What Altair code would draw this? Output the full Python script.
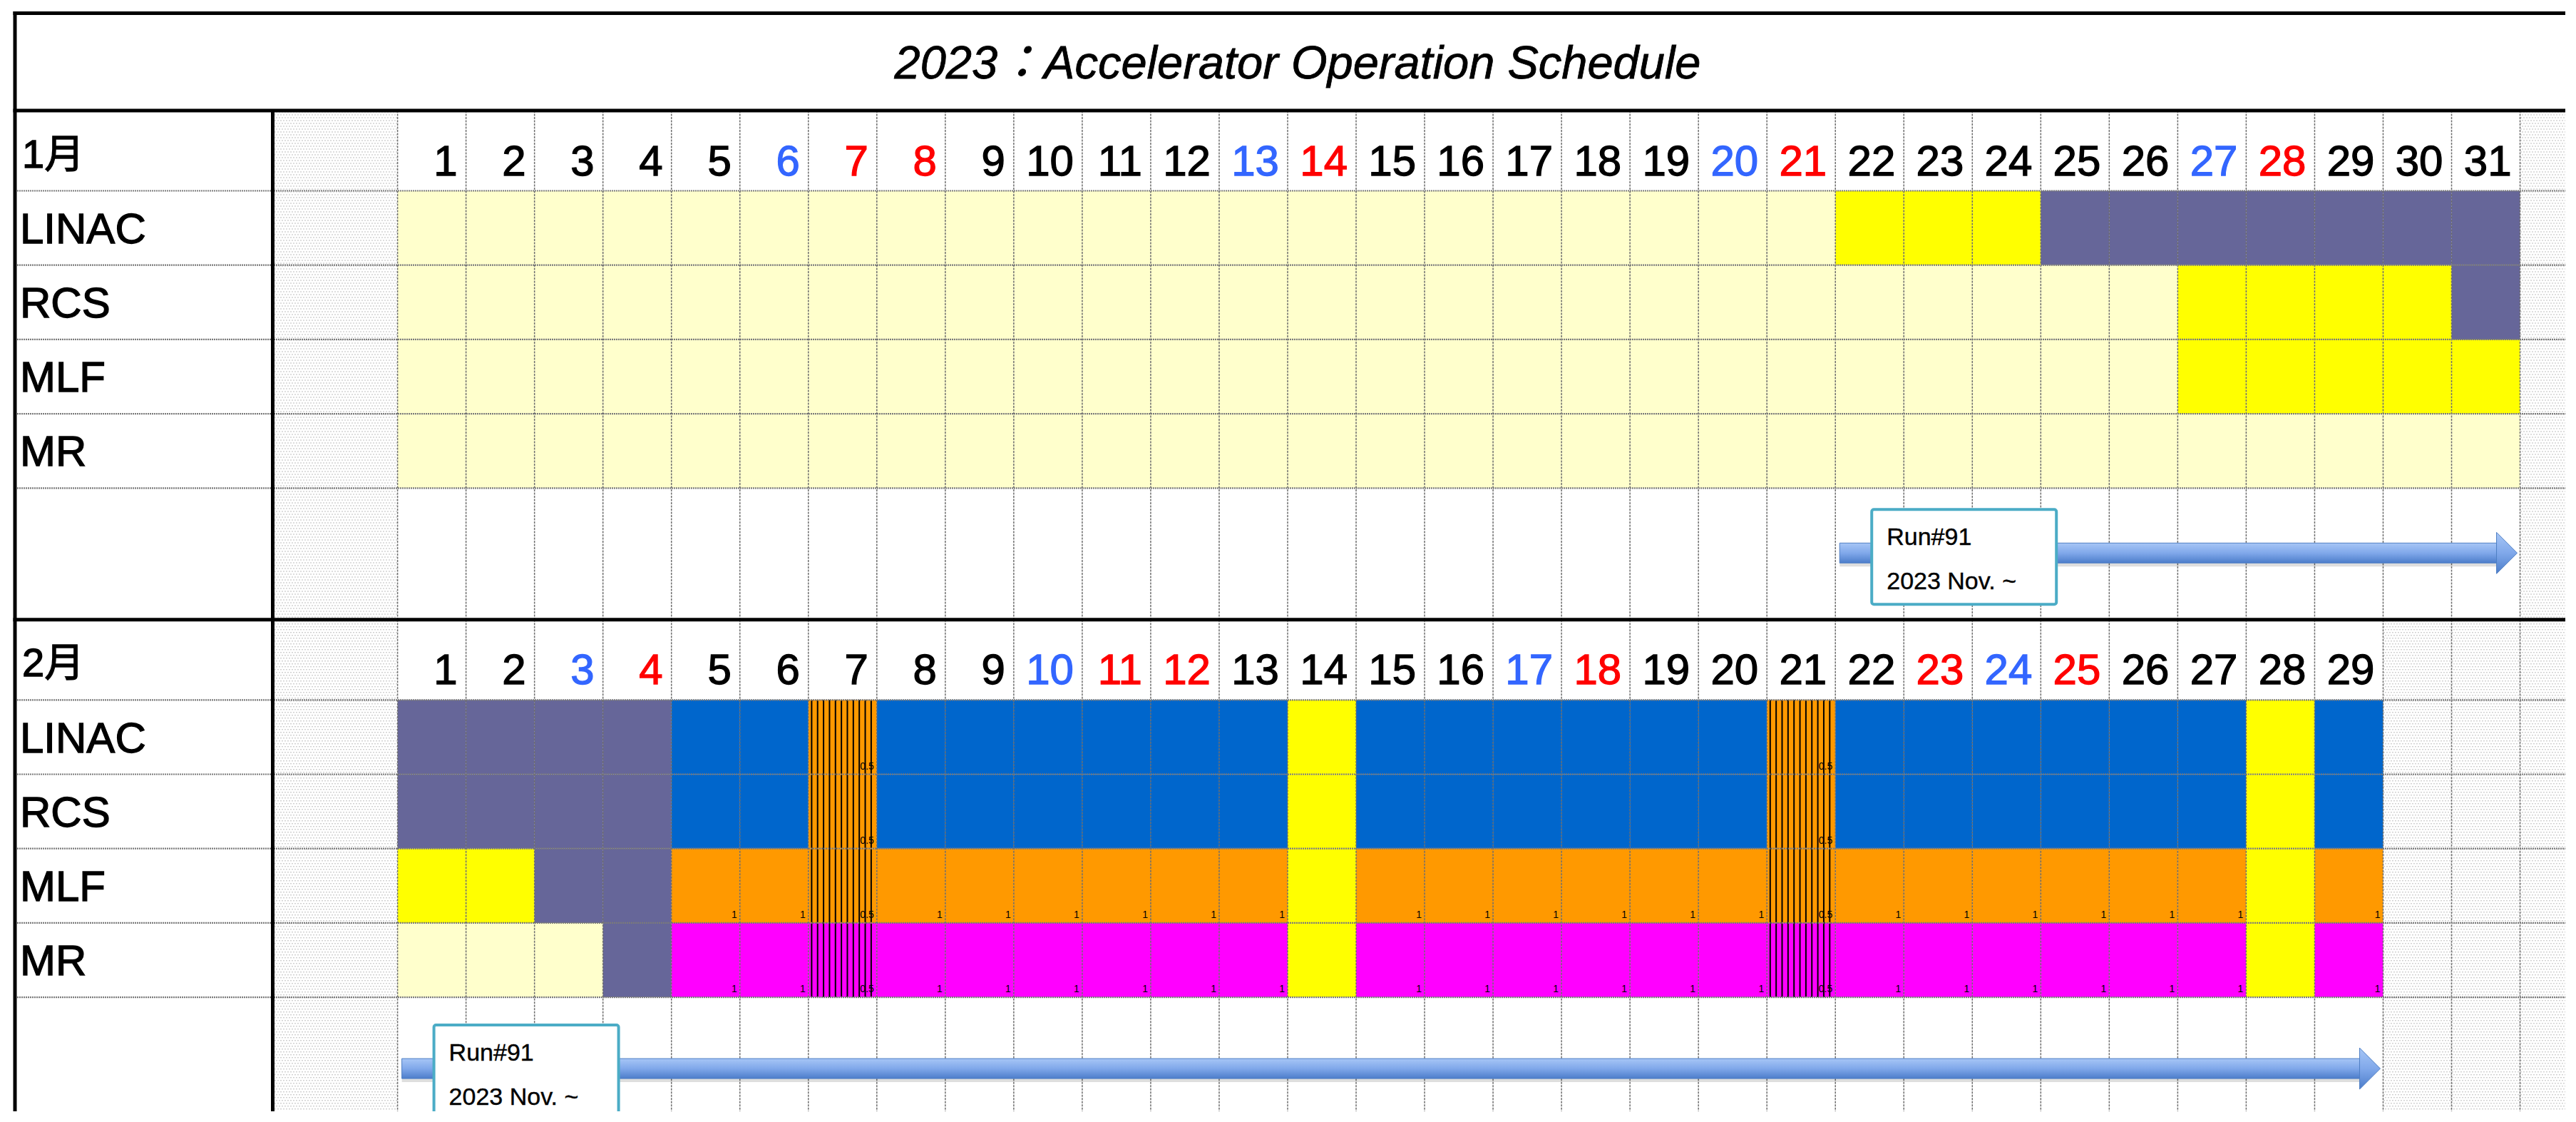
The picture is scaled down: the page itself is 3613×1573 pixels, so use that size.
import altair as alt
import pandas as pd

# ---------------- data ----------------
TITLE = "2023：Accelerator Operation Schedule"
MONTHS = ["1月", "2月"]
MONTH_DAYS = {"1月": 31, "2月": 29}
ROWS = ["LINAC", "RCS", "MLF", "MR"]
SAT_DAYS = {"1月": [6, 13, 20, 27], "2月": [3, 10, 17, 24]}
HOLIDAYS = {"1月": [7, 8, 14, 21, 28], "2月": [4, 11, 12, 18, 23, 25]}

# status code per day: L=off (light), Y=tuning, S=maintenance, B=beam, O=MLF user, M=MR user,
# H/h=half-day (hatched)
JAN_LINAC = list("LLLLLLLLLL" "LLLLLLLLLL" "L" "YYY" "SSSSSSS")
JAN_RCS = list("LLLLLLLLLL" "LLLLLLLLLL" "LLLLLL" "YYYY" "S")
JAN_MLF = list("LLLLLLLLLL" "LLLLLLLLLL" "LLLLLL" "YYYYY")
JAN_MR = list("LLLLLLLLLL" "LLLLLLLLLL" "LLLLLLLLLL" "L")
FEB_LINAC = list("SSSS" "BB" "H" "BBBBBB" "Y" "BBBBBB" "H" "BBBBBB" "Y" "B")
FEB_RCS = list("SSSS" "BB" "H" "BBBBBB" "Y" "BBBBBB" "H" "BBBBBB" "Y" "B")
FEB_MLF = list("YY" "SS" "OO" "H" "OOOOOO" "Y" "OOOOOO" "H" "OOOOOO" "Y" "O")
FEB_MR = list("LLL" "S" "MM" "h" "MMMMMM" "Y" "MMMMMM" "h" "MMMMMM" "Y" "M")
SCHEDULE = {
    "1月": [JAN_LINAC, JAN_RCS, JAN_MLF, JAN_MR],
    "2月": [FEB_LINAC, FEB_RCS, FEB_MLF, FEB_MR],
}
CODE_COLORS = {"L": "#FFFFCC", "Y": "#FFFF00", "S": "#666699", "B": "#0066CC",
               "O": "#FF9900", "M": "#FF00FF", "H": "#FF9900", "h": "#FF00FF"}
CELL_VALUE = {"H": "0.5", "h": "0.5", "O": "1", "M": "1"}
DAY_COLORS = {"wd": "#000000", "sat": "#3366FF", "hol": "#FF0000"}

RUNS = [{"month": "1月", "start": 22, "end": 31}, {"month": "2月", "start": 1, "end": 29}]
RUN_NAME = "Run#91"
RUN_NOTE = "2023 Nov. ~"

for m in MONTHS:
    for r in SCHEDULE[m]:
        assert len(r) == MONTH_DAYS[m], (m, len(r))

# ---------------- layout (pixels) ----------------
MARGIN = 8
PLOT_W, PLOT_H = 3590, 1550
COL_W = 96.03
DAY0_PX = 557.6
LEFT_PX = 21
LABEL_RIGHT_PX = 382.5
TOP_PX = 18.5
TITLE_BOTTOM_PX = 155
HEADER_H, ROW_H, BLANK_H = 112.5, 104.2, 184.5
RIGHT_PX = MARGIN + PLOT_W
BOTTOM_PX = MARGIN + PLOT_H
FONT = "Liberation Sans, Arial, Noto Sans CJK JP, sans-serif"

BLOCK_TOP = {"1月": TITLE_BOTTOM_PX}
BLOCK_TOP["2月"] = TITLE_BOTTOM_PX + HEADER_H + 4 * ROW_H + BLANK_H


def xu(px):
    return (px - DAY0_PX) / COL_W


def yu(px):
    return (px - MARGIN) / ROW_H


def hdr_bottom(m):
    return BLOCK_TOP[m] + HEADER_H


def row_top(m, r):
    return hdr_bottom(m) + r * ROW_H


def block_bottom(m):
    return row_top(m, 4) + BLANK_H if m == "1月" else BOTTOM_PX


XS = alt.Scale(domain=[xu(MARGIN), xu(RIGHT_PX)], nice=False, zero=False)
YS = alt.Scale(domain=[0, PLOT_H / ROW_H], nice=False, zero=False, reverse=True)


def X(f="x"):
    return alt.X(f"{f}:Q", scale=XS, axis=None)


def Y(f="y"):
    return alt.Y(f"{f}:Q", scale=YS, axis=None)


layers = []

# ---- dotted (unused) regions: texture built from dashed rules ----
dot_regions = []
for m in MONTHS:
    dot_regions.append((LABEL_RIGHT_PX, DAY0_PX, BLOCK_TOP[m], block_bottom(m)))
    dot_regions.append((DAY0_PX + MONTH_DAYS[m] * COL_W, RIGHT_PX, BLOCK_TOP[m], block_bottom(m)))
dots = []
for (x0, x1, y0, y1) in dot_regions:
    yy, i = y0 + 2, 0
    while yy < y1 - 1:
        dots.append({"x": xu(x0 + 1), "x2": xu(x1), "y": yu(yy), "par": i % 2})
        yy += 4
        i += 1
dots = pd.DataFrame(dots)
for par, off in [(0, 0), (1, 2)]:
    layers.append(
        alt.Chart(dots[dots.par == par]).mark_rule(
            color="#7a7a7a", strokeWidth=1, strokeDash=[1, 3], strokeDashOffset=off
        ).encode(x=X(), x2="x2", y=Y())
    )

# ---- schedule cells ----
cells = []
for m in MONTHS:
    for r, row in enumerate(ROWS):
        for d, code in enumerate(SCHEDULE[m][r], start=1):
            cells.append({
                "month": m, "row": row, "day": d, "code": code, "fill": CODE_COLORS[code],
                "x": d - 1, "x2": d,
                "y": yu(row_top(m, r)), "y2": yu(row_top(m, r + 1)),
                "val": CELL_VALUE.get(code, ""),
                "vx": d - 4 / COL_W, "vy": yu(row_top(m, r + 1) - 7),
            })
cells = pd.DataFrame(cells)
layers.append(
    alt.Chart(cells).mark_rect(strokeWidth=0).encode(
        x=X(), x2="x2", y=Y(), y2="y2",
        color=alt.Color("fill:N", scale=None, legend=None),
    )
)

# ---- hatch lines in half-day columns ----
hatch = []
for m in MONTHS:
    half_days = sorted({d for r in range(4) for d, c in enumerate(SCHEDULE[m][r], 1) if c in "Hh"})
    for d in half_days:
        for k in range(11):
            hatch.append({"x": d - 1 + (4.6 + 8.35 * k) / COL_W,
                          "y": yu(row_top(m, 0)), "y2": yu(row_top(m, 4))})
layers.append(
    alt.Chart(pd.DataFrame(hatch)).mark_rule(color="black", strokeWidth=2).encode(
        x=X(), y=Y(), y2="y2")
)

# ---- grid lines ----
vgrid, hgrid = [], []
for m in MONTHS:
    for k in range(0, 32):
        vgrid.append({"x": k, "y": yu(BLOCK_TOP[m]), "y2": yu(block_bottom(m))})
    for r in range(0, 5):
        hgrid.append({"x": xu(LEFT_PX), "x2": xu(RIGHT_PX), "y": yu(row_top(m, r))})
layers.append(
    alt.Chart(pd.DataFrame(vgrid)).mark_rule(color="#6e6e6e", strokeWidth=1.5, strokeDash=[3, 1.5]).encode(
        x=X(), y=Y(), y2="y2")
)
layers.append(
    alt.Chart(pd.DataFrame(hgrid)).mark_rule(color="#7a7a7a", strokeWidth=2.2, strokeDash=[2, 1]).encode(
        x=X(), x2="x2", y=Y())
)

# ---- small values in cells ----
layers.append(
    alt.Chart(cells[cells.val != ""]).mark_text(
        align="right", baseline="alphabetic", fontSize=14, font=FONT, color="black"
    ).encode(x=X("vx"), y=Y("vy"), text="val:N")
)

# ---- day header labels ----
days = []
for m in MONTHS:
    for d in range(1, MONTH_DAYS[m] + 1):
        kind = "sat" if d in SAT_DAYS[m] else ("hol" if d in HOLIDAYS[m] else "wd")
        days.append({"x": d - 12 / COL_W, "y": yu(hdr_bottom(m) - 22), "t": str(d),
                     "col": DAY_COLORS[kind]})
layers.append(
    alt.Chart(pd.DataFrame(days)).mark_text(
        align="right", baseline="alphabetic", fontSize=60, font=FONT, strokeWidth=1.3
    ).encode(
        x=X(), y=Y(), text="t:N",
        color=alt.Color("col:N", scale=None, legend=None),
        stroke=alt.Stroke("col:N", scale=None, legend=None),
    )
)

# ---- row labels ----
labels = []
for m in MONTHS:
    labels.append({"x": xu(LEFT_PX + 10), "y": yu(hdr_bottom(m) - 33), "t": m, "fs": 56})
    for r, row in enumerate(ROWS):
        labels.append({"x": xu(LEFT_PX + 7), "y": yu(row_top(m, r + 1) - 31), "t": row, "fs": 60})
labels = pd.DataFrame(labels)
for fs in [56, 60]:
    layers.append(
        alt.Chart(labels[labels.fs == fs]).mark_text(
            align="left", baseline="alphabetic", fontSize=fs, font=FONT, color="black",
            stroke="black", strokeWidth=1.3,
        ).encode(x=X(), y=Y(), text="t:N")
    )

# ---- title ----
layers.append(
    alt.Chart(pd.DataFrame([{"x": xu(1820), "y": yu(110), "t": TITLE}])).mark_text(
        align="center", baseline="alphabetic", fontSize=65, fontStyle="italic", font=FONT, color="black",
        stroke="black", strokeWidth=0.8,
    ).encode(x=X(), y=Y(), text="t:N")
)

# ---- run arrows and boxes ----
ARROW_DY = {"1月": 91, "2月": 100}
BODY_H, HEAD_W, HEAD_H = 28, 29, 58
arrows, heads, boxes, btxt = [], [], [], []
for run in RUNS:
    m = run["month"]
    yc = row_top(m, 4) + ARROW_DY[m]
    x0 = run["start"] - 1 + 6 / COL_W
    tip = run["end"] - 4 / COL_W
    arrows.append({"x": x0, "x2": tip - (HEAD_W - 2) / COL_W,
                   "y": yu(yc - BODY_H / 2), "y2": yu(yc + BODY_H / 2),
                   "sy": yu(yc - BODY_H / 2 + 4), "sy2": yu(yc + BODY_H / 2 + 5)})
    heads.append({"x": tip - HEAD_W / 2 / COL_W, "y": yu(yc)})
    bx = run["start"] - 1 + 51 / COL_W
    btop = yc - 61
    boxes.append({"x": bx, "x2": bx + 259 / COL_W, "y": yu(btop), "y2": yu(btop + 133)})
    btxt.append({"x": bx + 21 / COL_W, "y": yu(btop + 50), "t": RUN_NAME})
    btxt.append({"x": bx + 21 / COL_W, "y": yu(btop + 112), "t": RUN_NOTE})
arrows = pd.DataFrame(arrows)
grad = alt.Gradient(
    gradient="linear",
    stops=[alt.GradientStop(offset=0, color="#A7C6F6"), alt.GradientStop(offset=0.5, color="#80A8EA"),
           alt.GradientStop(offset=1, color="#4C7DCA")],
    x1=0, x2=0, y1=0, y2=1,
)
layers.append(
    alt.Chart(arrows).mark_rect(fill="#000000", opacity=0.13).encode(x=X(), x2="x2", y=Y("sy"), y2="sy2")
)
layers.append(
    alt.Chart(arrows).mark_rect(fill=grad, stroke="#4F7FC4", strokeWidth=1).encode(
        x=X(), x2="x2", y=Y(), y2="y2")
)
layers.append(
    alt.Chart(pd.DataFrame(heads)).mark_point(
        shape="M-0.5,-1L0.5,0L-0.5,1Z", fill=grad, filled=True, opacity=1,
        stroke="#4F7FC4", strokeWidth=1, size=HEAD_H ** 2,
    ).encode(x=X(), y=Y())
)
layers.append(
    alt.Chart(pd.DataFrame(boxes)).mark_rect(
        fill="white", stroke="#4BACC6", strokeWidth=4, cornerRadius=3
    ).encode(x=X(), x2="x2", y=Y(), y2="y2")
)
layers.append(
    alt.Chart(pd.DataFrame(btxt)).mark_text(
        align="left", baseline="alphabetic", fontSize=34, font=FONT, color="black",
        stroke="black", strokeWidth=0.4,
    ).encode(x=X(), y=Y(), text="t:N")
)

# ---- thick frame lines ----
hthick = [
    {"x": xu(LEFT_PX - 2.5), "x2": xu(RIGHT_PX), "y": yu(TOP_PX)},
    {"x": xu(LEFT_PX - 2.5), "x2": xu(RIGHT_PX), "y": yu(TITLE_BOTTOM_PX)},
    {"x": xu(LEFT_PX - 2.5), "x2": xu(RIGHT_PX), "y": yu(BLOCK_TOP["2月"])},
]
vthick = [
    {"x": xu(LEFT_PX), "y": yu(TOP_PX - 2.5), "y2": yu(BOTTOM_PX)},
    {"x": xu(LABEL_RIGHT_PX), "y": yu(TITLE_BOTTOM_PX), "y2": yu(BOTTOM_PX)},
]
layers.append(
    alt.Chart(pd.DataFrame(hthick)).mark_rule(color="black", strokeWidth=5).encode(x=X(), x2="x2", y=Y())
)
layers.append(
    alt.Chart(pd.DataFrame(vthick)).mark_rule(color="black", strokeWidth=5).encode(x=X(), y=Y(), y2="y2")
)

chart = alt.layer(*layers).properties(
    width=PLOT_W, height=PLOT_H, padding=0, autosize=alt.AutoSizeParams(type="none"),
    background="white",
).configure_view(stroke=None)

chart.save("out.html", embed_options={"renderer": "svg", "actions": False})
